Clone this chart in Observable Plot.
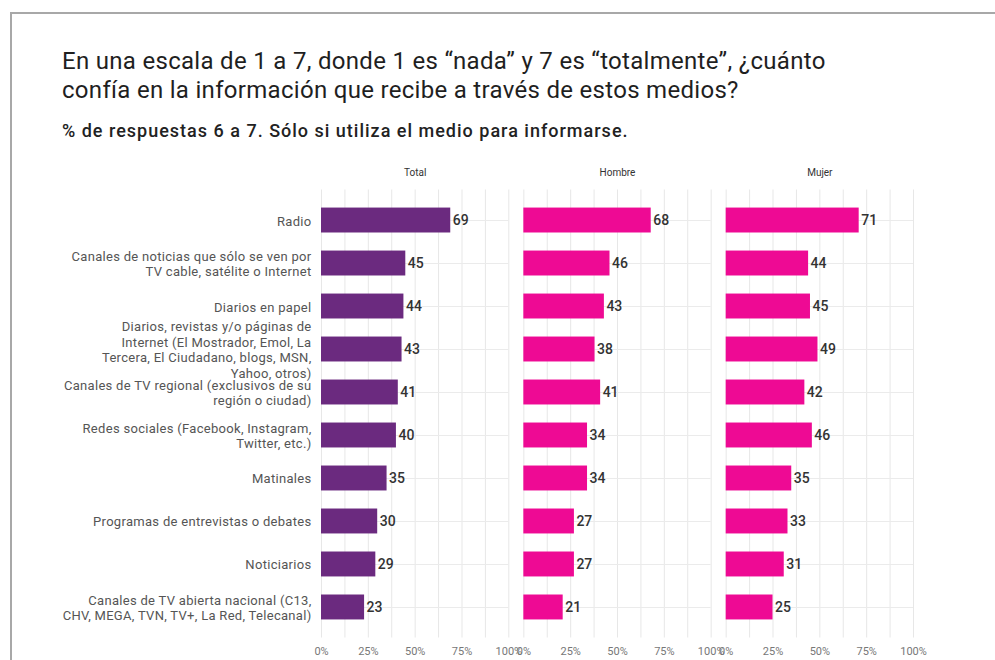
<!DOCTYPE html>
<html>
<head>
<meta charset="utf-8">
<script src="https://cdn.jsdelivr.net/npm/d3@7"></script>
<script src="https://cdn.jsdelivr.net/npm/@observablehq/plot@0.6"></script>
<style>
  html, body { margin: 0; padding: 0; background: #fff; }
  body { position: relative; width: 995px; height: 660px; overflow: hidden; font-family: Roboto, sans-serif; }
  #frame { position: absolute; left: 10px; top: 12px; width: 990px; height: 660px; border-top: 2px solid #a8a8a8; border-left: 2px solid #a8a8a8; box-sizing: border-box; }
  #title { position: absolute; left: 62px; top: 47px; font-size: 24px; line-height: 29px; letter-spacing: 0.3px; color: #1f1f1f; font-weight: 400; white-space: nowrap; }
  #subtitle { position: absolute; left: 62px; top: 121px; font-size: 18px; line-height: 20px; letter-spacing: 1px; color: #222; font-weight: 500; white-space: nowrap; }
  #chart { position: absolute; left: 0; top: 150px; }
</style>
</head>
<body>
<div id="frame"></div>
<div id="title">En una escala de 1 a 7, donde 1 es “nada” y 7 es “totalmente”, ¿cuánto<br>confía en la información que recibe a través de estos medios?</div>
<div id="subtitle">% de respuestas 6 a 7. Sólo si utiliza el medio para informarse.</div>
<div id="chart"></div>
<script>
const groups = ["Total", "Hombre", "Mujer"];
const categories = [
  "Radio",
  "Canales de noticias que sólo se ven por TV cable, satélite o Internet",
  "Diarios en papel",
  "Diarios, revistas y/o páginas de Internet (El Mostrador, Emol, La Tercera, El Ciudadano, blogs, MSN, Yahoo, otros)",
  "Canales de TV regional (exclusivos de su región o ciudad)",
  "Redes sociales (Facebook, Instagram, Twitter, etc.)",
  "Matinales",
  "Programas de entrevistas o debates",
  "Noticiarios",
  "Canales de TV abierta nacional (C13, CHV, MEGA, TVN, TV+, La Red, Telecanal)"
];
const categoryLabels = [
  "Radio",
  "Canales de noticias que sólo se ven por\nTV cable, satélite o Internet",
  "Diarios en papel",
  "Diarios, revistas y/o páginas de\nInternet (El Mostrador, Emol, La\nTercera, El Ciudadano, blogs, MSN,\nYahoo, otros)",
  "Canales de TV regional (exclusivos de su\nregión o ciudad)",
  "Redes sociales (Facebook, Instagram,\nTwitter, etc.)",
  "Matinales",
  "Programas de entrevistas o debates",
  "Noticiarios",
  "Canales de TV abierta nacional (C13,\nCHV, MEGA, TVN, TV+, La Red, Telecanal)"
];
const totalValues  = [69, 45, 44, 43, 41, 40, 35, 30, 29, 23];
const hombreValues = [68, 46, 43, 38, 41, 34, 34, 27, 27, 21];
const mujerValues  = [71, 44, 45, 49, 42, 46, 35, 33, 31, 25];
const xTicks = [0, 25, 50, 75, 100];
const gridTicks = [0, 12.5, 25, 37.5, 50, 62.5, 75, 87.5, 100];

const seriesByGroup = {Total: totalValues, Hombre: hombreValues, Mujer: mujerValues};
const data = [];
for (const g of groups) {
  categories.forEach((c, i) => data.push({group: g, category: c, value: seriesByGroup[g][i]}));
}
const labelOf = new Map(categories.map((c, i) => [c, categoryLabels[i]]));

const chart = Plot.plot({
  width: 995,
  height: 510,
  marginLeft: 321,
  marginRight: 82,
  marginTop: 39.5,
  marginBottom: 22.5,
  style: {fontFamily: "Roboto, sans-serif", fontSize: "12px", color: "#555", background: "transparent"},
  fx: {domain: groups, paddingInner: 15 / 202, paddingOuter: 0, round: false, label: null},
  x: {domain: [0, 100], label: null},
  y: {domain: categories, padding: 0.42, round: false, label: null},
  color: {domain: groups, range: ["#6b2a7f", "#ee0a94", "#ee0a94"]},
  marks: [
    Plot.gridX(gridTicks, {stroke: "#e7e7e7", strokeOpacity: 1}),
    Plot.gridY({stroke: "#ebebeb", strokeOpacity: 1}),
    Plot.barX(data, {fx: "group", y: "category", x: "value", fill: "group"}),
    Plot.text(data, {fx: "group", y: "category", x: "value", text: d => String(d.value), textAnchor: "start", dx: 2, fontSize: 14, fontWeight: 500, fill: "#333"}),
    Plot.axisFx({anchor: "top", tickSize: 0, tickPadding: 14, fontSize: 10, fill: "#333", label: null}),
    Plot.axisX({ticks: xTicks, tickFormat: d => d + "%", tickSize: 0, tickPadding: 9, fontSize: 11, fill: "#777", label: null}),
    Plot.axisY({tickSize: 0, tickPadding: 10, tickFormat: d => labelOf.get(d), fontSize: 13, fill: "#555", lineHeight: 1.2, label: null})
  ]
});
d3.select(chart).selectAll('g[aria-label="y-axis tick label"]').attr("letter-spacing", "0.3");
document.getElementById("chart").appendChild(chart);
</script>
</body>
</html>
